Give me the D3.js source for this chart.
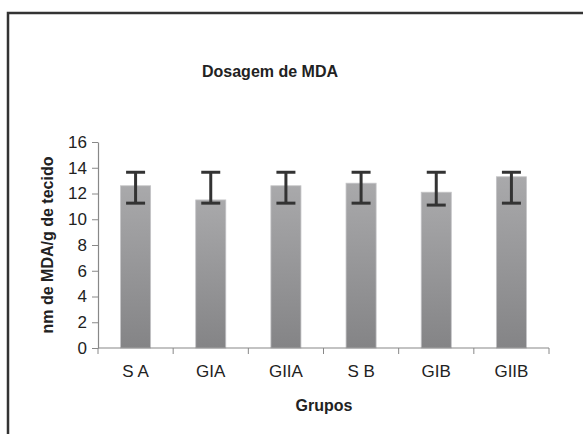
<!DOCTYPE html>
<html>
<head>
<meta charset="utf-8">
<script src="https://cdn.jsdelivr.net/npm/d3@7"></script>
<style>
  body { margin: 0; background: #fff; }
  text { font-family: "Liberation Sans", Arial, sans-serif; fill: #222; }
</style>
</head>
<body>
<svg id="chart" width="583" height="434"></svg>
<script>
var groups = ['S A', 'GIA', 'GIIA', 'S B', 'GIB', 'GIIB'];
var mda = [12.6, 11.5, 12.6, 12.8, 12.1, 13.3];
var errHigh = [13.65, 13.65, 13.65, 13.65, 13.65, 13.65];
var errLow = [11.25, 11.25, 11.25, 11.25, 11.1, 11.25];
var yTicks = [0, 2, 4, 6, 8, 10, 12, 14, 16];

var svg = d3.select('#chart');

// outer frame (runs off the right and bottom edges)
svg.append('rect')
  .attr('x', 8).attr('y', 13)
  .attr('width', 600).attr('height', 450)
  .attr('fill', 'none')
  .attr('stroke', '#333')
  .attr('stroke-width', 2.5);

var x = d3.scaleBand()
  .domain(groups)
  .range([98, 549])
  .paddingInner(0.6)
  .paddingOuter(0.3);

var y = d3.scaleLinear()
  .domain([0, 16])
  .range([348, 142]);

var grad = svg.append('defs').append('linearGradient')
  .attr('id', 'barFill')
  .attr('x1', 0).attr('y1', 0).attr('x2', 0).attr('y2', 1);
grad.append('stop').attr('offset', '0%').attr('stop-color', '#a9a9ab');
grad.append('stop').attr('offset', '100%').attr('stop-color', '#848486');

// bars
svg.append('g').selectAll('rect')
  .data(mda)
  .enter().append('rect')
  .attr('x', function (d, i) { return x(groups[i]); })
  .attr('y', function (d) { return y(d); })
  .attr('width', x.bandwidth())
  .attr('height', function (d) { return y(0) - y(d); })
  .attr('fill', 'url(#barFill)')
  .attr('stroke', '#c4c4c6')
  .attr('stroke-width', 0.8);

// axes
var yAxis = svg.append('g')
  .attr('transform', 'translate(98,0)')
  .call(d3.axisLeft(y).tickValues(yTicks).tickSize(6).tickPadding(5).tickSizeOuter(0));

var xAxis = svg.append('g')
  .attr('transform', 'translate(0,348)')
  .call(d3.axisBottom(x).tickSize(0).tickPadding(16));

xAxis.selectAll('.tick').remove();
xAxis.select('.domain').remove();
xAxis.append('line')
  .attr('x1', 98).attr('x2', 549)
  .attr('stroke', '#888').attr('stroke-width', 1.2);

var edges = groups.map(function (g) { return x(g) - x.step() * x.paddingOuter(); });
edges.push(549);
xAxis.selectAll('.edge')
  .data(edges)
  .enter().append('line')
  .attr('class', 'edge')
  .attr('x1', function (d) { return d; })
  .attr('x2', function (d) { return d; })
  .attr('y1', 0).attr('y2', 6)
  .attr('stroke', '#888');

xAxis.selectAll('.lab')
  .data(groups)
  .enter().append('text')
  .attr('class', 'lab')
  .attr('x', function (d) { return x(d) + x.bandwidth() / 2; })
  .attr('y', 29)
  .attr('text-anchor', 'middle')
  .style('font-size', '17px')
  .text(function (d) { return d; });

yAxis.select('.domain').attr('stroke', '#888').attr('stroke-width', 1.2);
yAxis.selectAll('.tick line').attr('stroke', '#888');
yAxis.selectAll('.tick text')
  .style('font-size', '17px')
  .style('font-family', '"Liberation Sans", Arial, sans-serif')
  .attr('fill', '#222');

// error bars
var errs = svg.append('g')
  .attr('stroke', '#333')
  .attr('stroke-width', 3);

errs.selectAll('.stem')
  .data(groups)
  .enter().append('line')
  .attr('x1', function (d) { return x(d) + x.bandwidth() / 2; })
  .attr('x2', function (d) { return x(d) + x.bandwidth() / 2; })
  .attr('y1', function (d, i) { return y(errHigh[i]); })
  .attr('y2', function (d, i) { return y(errLow[i]); });

[errHigh, errLow].forEach(function (vals) {
  errs.append('g').selectAll('line')
    .data(groups)
    .enter().append('line')
    .attr('x1', function (d) { return x(d) + x.bandwidth() / 2 - 9.5; })
    .attr('x2', function (d) { return x(d) + x.bandwidth() / 2 + 9.5; })
    .attr('y1', function (d, i) { return y(vals[i]); })
    .attr('y2', function (d, i) { return y(vals[i]); });
});

// titles
svg.append('text')
  .attr('x', 270).attr('y', 77)
  .attr('text-anchor', 'middle')
  .style('font-size', '16px')
  .style('font-weight', 'bold')
  .attr('fill', '#2a2a2a')
  .text('Dosagem de MDA');

svg.append('text')
  .attr('x', 324).attr('y', 411)
  .attr('text-anchor', 'middle')
  .style('font-size', '16px')
  .style('font-weight', 'bold')
  .text('Grupos');

svg.append('text')
  .attr('transform', 'translate(53,245) rotate(-90)')
  .attr('text-anchor', 'middle')
  .style('font-size', '16px')
  .style('font-weight', 'bold')
  .text('nm de MDA/g de tecido');
</script>
</body>
</html>
